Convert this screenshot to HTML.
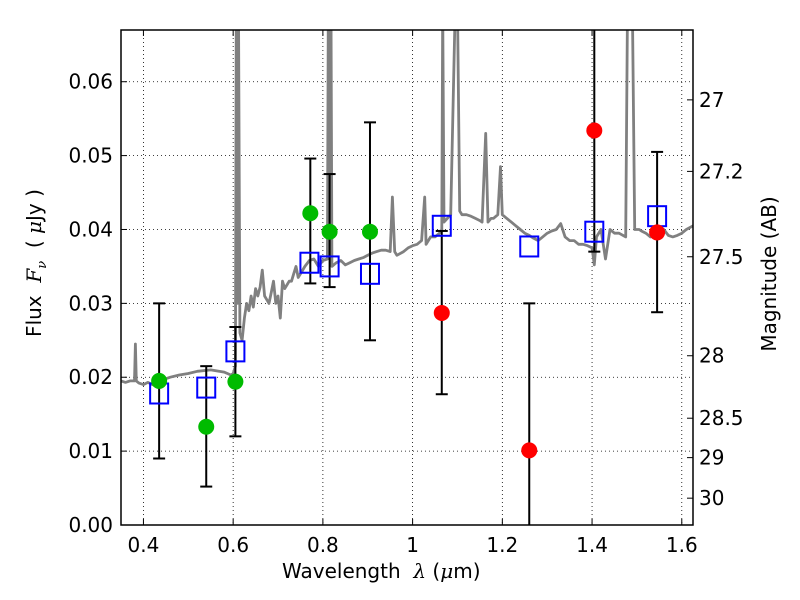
<!DOCTYPE html>
<html><head><meta charset="utf-8"><style>
body{margin:0;background:#fff;}
svg{display:block;font-family:"DejaVu Sans","Liberation Sans",sans-serif;}
</style></head><body>
<svg id="chart" width="800" height="600"></svg>
<script>
const specX=[0.35,0.36,0.37,0.38,0.382,0.384,0.39,0.40,0.41,0.42,0.43,0.44,0.45,0.46,0.48,0.50,0.52,0.55,0.58,0.595,0.60,0.605,0.607,0.610,0.612,0.615,0.62,0.625,0.63,0.635,0.64,0.645,0.65,0.655,0.66,0.665,0.67,0.675,0.68,0.685,0.69,0.695,0.70,0.705,0.71,0.715,0.72,0.725,0.73,0.735,0.74,0.745,0.75,0.755,0.76,0.77,0.78,0.79,0.80,0.81,0.812,0.815,0.818,0.82,0.83,0.84,0.85,0.86,0.87,0.88,0.89,0.90,0.91,0.92,0.93,0.94,0.95,0.955,0.96,0.965,0.98,0.99,1.00,1.01,1.02,1.027,1.03,1.04,1.05,1.06,1.065,1.067,1.07,1.085,1.095,1.098,1.10,1.105,1.11,1.12,1.13,1.14,1.15,1.155,1.163,1.168,1.175,1.18,1.19,1.196,1.20,1.21,1.22,1.23,1.24,1.25,1.26,1.27,1.28,1.29,1.30,1.31,1.32,1.33,1.34,1.35,1.36,1.37,1.38,1.39,1.40,1.405,1.41,1.42,1.43,1.44,1.45,1.46,1.475,1.479,1.49,1.495,1.505,1.51,1.52,1.53,1.54,1.56,1.57,1.58,1.59,1.60,1.61,1.625];
const specY=[0.0195,0.0193,0.0195,0.0195,0.0245,0.0195,0.0192,0.0190,0.0193,0.0190,0.0188,0.0192,0.0198,0.0200,0.0203,0.0205,0.0208,0.0210,0.0207,0.0203,0.0205,0.0215,0.07,0.030,0.07,0.026,0.025,0.028,0.030,0.029,0.031,0.0295,0.032,0.031,0.0322,0.0345,0.031,0.0305,0.030,0.0315,0.033,0.030,0.031,0.028,0.033,0.032,0.0325,0.033,0.033,0.034,0.035,0.0335,0.034,0.0345,0.035,0.0358,0.036,0.035,0.0358,0.036,0.07,0.036,0.07,0.035,0.0355,0.0358,0.0352,0.0355,0.0358,0.036,0.0362,0.0365,0.0368,0.037,0.0372,0.0372,0.037,0.0444,0.037,0.0365,0.037,0.0375,0.0378,0.038,0.0385,0.0444,0.038,0.039,0.039,0.0395,0.040,0.07,0.041,0.042,0.07,0.07,0.07,0.0425,0.042,0.042,0.0418,0.0415,0.0412,0.041,0.053,0.041,0.0415,0.0415,0.042,0.0485,0.042,0.0415,0.041,0.0405,0.040,0.0395,0.0392,0.0388,0.0385,0.039,0.0395,0.0398,0.040,0.0408,0.039,0.0385,0.0385,0.038,0.038,0.0378,0.0375,0.0352,0.039,0.040,0.036,0.040,0.0395,0.0395,0.039,0.07,0.07,0.040,0.040,0.0398,0.0395,0.039,0.0395,0.040,0.0392,0.039,0.0392,0.0395,0.040,0.0405];
const photX=[0.435,0.54,0.605,0.77,0.815,0.905,1.065,1.26,1.405,1.545];
const photY=[0.0178,0.0186,0.0235,0.0355,0.0350,0.0340,0.0405,0.0377,0.0397,0.0418];
const greenX=[0.435,0.54,0.605,0.772,0.815,0.905];
const greenY=[0.0195,0.0133,0.0194,0.0422,0.0397,0.0397];
const greenLo=[0.0090,0.0052,0.0120,0.0327,0.0322,0.0250];
const greenHi=[0.0300,0.0215,0.0268,0.0496,0.0475,0.0545];
const redX=[1.065,1.26,1.405,1.545];
const redY=[0.0287,0.0101,0.0534,0.0396];
const redLo=[0.0177,-0.01,0.0370,0.0288];
const redHi=[0.0398,0.0300,0.09,0.0505];
const xTicks=[0.4,0.6,0.8,1.0,1.2,1.4,1.6];
const xTickLabels=["0.4","0.6","0.8","1","1.2","1.4","1.6"];
const yTicks=[0,0.01,0.02,0.03,0.04,0.05,0.06];
const yTickLabels=["0.00","0.01","0.02","0.03","0.04","0.05","0.06"];
const magTicks=[27,27.2,27.5,28,28.5,29,30];
const magTickLabels=["27","27.2","27.5","28","28.5","29","30"];

const L=121,R=693,T=30,B=525,X0=0.35,X1=1.625,Y0=0,Y1=0.067;
const sx=v=>L+(v-X0)/(X1-X0)*(R-L);
const sy=v=>B-(v-Y0)/(Y1-Y0)*(B-T);
const NS="http://www.w3.org/2000/svg";
const svg=document.getElementById('chart');
function mk(tag,attrs,parent){const e=document.createElementNS(NS,tag);for(const k in attrs)e.setAttribute(k,attrs[k]);(parent||svg).appendChild(e);return e;}
const defs=mk('defs',{});const cp=mk('clipPath',{id:'clip'},defs);mk('rect',{x:L,y:T,width:R-L,height:B-T},cp);

const grid=mk('g',{});


xTicks.forEach(v=>{mk('line',{x1:sx(v),x2:sx(v),y1:T,y2:B,stroke:'#000','stroke-width':0.8,'stroke-dasharray':'1,3'},grid);});
yTicks.forEach(v=>{mk('line',{x1:L,x2:R,y1:sy(v),y2:sy(v),stroke:'#000','stroke-width':0.8,'stroke-dasharray':'1,3'},grid);});

const plot=mk('g',{'clip-path':'url(#clip)'});
let d='';specX.forEach((x,i)=>{d+=(i?'L':'M')+sx(x).toFixed(1)+','+sy(specY[i]).toFixed(1);});
const sp=mk('path',{d:d,fill:'none',stroke:'#808080','stroke-width':2.8,'stroke-linejoin':'round'},plot);



function ebar(x,lo,hi,name){
  const g=mk('g',{},plot);
  
  
  const X=sx(x);
  mk('line',{x1:X,x2:X,y1:sy(lo),y2:sy(hi),stroke:'#000','stroke-width':2},g);
  mk('line',{x1:X-6,x2:X+6,y1:sy(lo),y2:sy(lo),stroke:'#000','stroke-width':2},g);
  mk('line',{x1:X-6,x2:X+6,y1:sy(hi),y2:sy(hi),stroke:'#000','stroke-width':2},g);
}
greenX.forEach((x,i)=>ebar(x,greenLo[i],greenHi[i],'green-error-bar'));
redX.forEach((x,i)=>ebar(x,redLo[i],redHi[i],'red-error-bar'));

photX.forEach((x,i)=>{
  const r=mk('rect',{x:sx(x)-9,y:sy(photY[i])-10,width:18,height:20,fill:'none',stroke:'#0000ff','stroke-width':2},plot);
  
  
});
greenX.forEach((x,i)=>{
  const c=mk('circle',{cx:sx(x),cy:sy(greenY[i]),r:8,fill:'#00bb00'},plot);
  
  
});
redX.forEach((x,i)=>{
  const c=mk('circle',{cx:sx(x),cy:sy(redY[i]),r:8,fill:'#ff0000'},plot);
  
  
});

const fr=mk('rect',{x:L,y:T,width:R-L,height:B-T,fill:'none',stroke:'#000','stroke-width':1.5});



const xa=mk('g',{});


xTicks.forEach((v,i)=>{
  mk('line',{x1:sx(v),x2:sx(v),y1:B,y2:B-6,stroke:'#000'},xa);
  mk('line',{x1:sx(v),x2:sx(v),y1:T,y2:T+6,stroke:'#000'},xa);
  const t=mk('text',{x:sx(v),y:B+27,'font-size':20,'text-anchor':'middle'},xa);t.textContent=xTickLabels[i];
});
const ya=mk('g',{});


yTicks.forEach((v,i)=>{
  mk('line',{x1:L,x2:L+6,y1:sy(v),y2:sy(v),stroke:'#000'},ya);
  const t=mk('text',{x:L-8,y:sy(v)+7,'font-size':20,'text-anchor':'end'},ya);t.textContent=yTickLabels[i];
});
const ma=mk('g',{});


magTicks.forEach((m,i)=>{
  const f=Math.pow(10,(23.9-m)/2.5);
  mk('line',{x1:R-6,x2:R,y1:sy(f),y2:sy(f),stroke:'#000'},ma);
  const t=mk('text',{x:R+6,y:sy(f)+7,'font-size':20,'text-anchor':'start'},ma);t.textContent=magTickLabels[i];
});
</script>
<div style="position:absolute;left:0;top:0;width:800px;height:600px;pointer-events:none;font-family:'DejaVu Sans','Liberation Sans',sans-serif;">
<div style="position:absolute;left:282px;top:559px;font-size:20px;white-space:nowrap;">Wavelength&nbsp; <i style="font-family:'DejaVu Serif',serif;">λ</i> (<i style="font-family:'DejaVu Serif',serif;">μ</i>m)</div>
<div style="position:absolute;left:36px;top:263px;font-size:20px;white-space:nowrap;transform:translate(-50%,-50%) rotate(-90deg);">Flux&nbsp; <i style="font-family:'DejaVu Serif',serif;">F<sub style="font-size:13px">ν</sub></i>&nbsp; (&nbsp;<i style="font-family:'DejaVu Serif',serif;">μ</i>Jy )</div>
<div style="position:absolute;left:769px;top:274px;font-size:20px;white-space:nowrap;transform:translate(-50%,-50%) rotate(-90deg);">Magnitude (AB)</div>
</div>
</body></html>
